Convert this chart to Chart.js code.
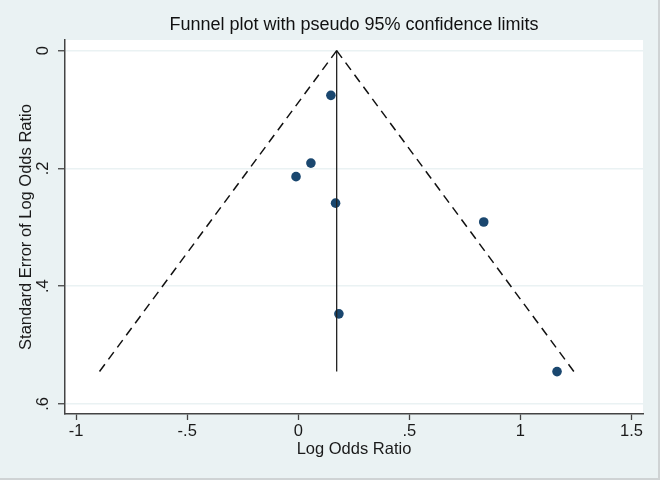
<!DOCTYPE html>
<html>
<head>
<meta charset="utf-8">
<script src="https://cdn.jsdelivr.net/npm/chart.js@4"></script>
<style>
  html, body { margin: 0; padding: 0; background: #eaf2f3; }
  #wrap { position: relative; width: 660px; height: 480px; }
</style>
</head>
<body>
<div id="wrap"><canvas id="chart" width="660" height="480"></canvas></div>
<script>
// --- Data ---
const logOR = [0.147, 0.057, -0.010, 0.168, 0.183, 0.835, 1.165];
const seLogOR = [0.076, 0.191, 0.214, 0.259, 0.447, 0.291, 0.545];

// pooled estimate line and pseudo 95% limits (start at se=0, end at max se)
const pooledX = [0.173, 0.173];
const limitSE = [0, 0.545];
const lowerLimitX = [0.173, -0.895];
const upperLimitX = [0.173, 1.241];

const xTicks = [-1, -0.5, 0, 0.5, 1, 1.5];
const yTicks = [0, 0.2, 0.4, 0.6];

// --- Helpers ---
const stataNum = (v) => {
  if (Math.abs(v) < 1e-9) return '0';
  let s = String(Math.round(v * 100) / 100);
  return s.replace(/^(-?)0\./, '$1.');
};
const pairs = (xs, ys) => xs.map((x, i) => ({ x, y: ys[i] }));

const FONT = '"Liberation Sans", Arial, sans-serif';
const BG = '#eaf2f3';
const AXIS = '#444';
const NAVY = '#1a476f';

// --- Background plugin: outer bluish region, white plot region, frame ---
const bgPlugin = {
  id: 'stataBg',
  beforeDraw(chart) {
    const { ctx, chartArea: a, width, height } = chart;
    ctx.save();
    ctx.fillStyle = BG;
    ctx.fillRect(0, 0, width, height);
    ctx.fillStyle = '#fff';
    ctx.fillRect(a.left, a.top, a.right - a.left, a.bottom - a.top);
    ctx.strokeStyle = '#cfd3d4';
    ctx.lineWidth = 2;
    ctx.beginPath();
    ctx.moveTo(width - 1, 0);
    ctx.lineTo(width - 1, height - 1);
    ctx.lineTo(0, height - 1);
    ctx.stroke();
    ctx.restore();
  }
};

new Chart(document.getElementById('chart').getContext('2d'), {
  type: 'scatter',
  data: {
    datasets: [
      {
        label: 'lower',
        type: 'line',
        data: pairs(lowerLimitX, limitSE),
        borderColor: '#111',
        borderWidth: 1.5,
        borderDash: [9, 6],
        pointRadius: 0,
        fill: false
      },
      {
        label: 'upper',
        type: 'line',
        data: pairs(upperLimitX, limitSE),
        borderColor: '#111',
        borderWidth: 1.5,
        borderDash: [9, 6],
        pointRadius: 0,
        fill: false
      },
      {
        label: 'pooled',
        type: 'line',
        data: pairs(pooledX, limitSE),
        borderColor: '#222',
        borderWidth: 1.3,
        pointRadius: 0,
        fill: false
      },
      {
        label: 'studies',
        data: pairs(logOR, seLogOR),
        backgroundColor: NAVY,
        borderColor: NAVY,
        pointRadius: 4.8,
        pointBorderWidth: 0
      }
    ]
  },
  options: {
    responsive: false,
    animation: false,
    events: [],
    layout: { padding: { left: 0, right: 17, top: 0, bottom: 0 } },
    plugins: {
      legend: { display: false },
      tooltip: { enabled: false },
      title: {
        display: true,
        fullSize: false,
        text: 'Funnel plot with pseudo 95% confidence limits',
        color: '#111',
        font: { family: FONT, size: 18, weight: 'normal' },
        padding: { top: 14.5, bottom: 3.9 }
      }
    },
    scales: {
      x: {
        type: 'linear',
        min: -1.05,
        max: 1.552,
        afterBuildTicks: (s) => { s.ticks = xTicks.map(v => ({ value: v })); },
        afterFit: (s) => { s.height = 66; },
        ticks: {
          color: '#1a1a1a',
          font: { family: FONT, size: 16.5 },
          padding: 2,
          maxRotation: 0,
          callback: (v) => stataNum(v)
        },
        grid: { drawOnChartArea: false, tickLength: 6, tickColor: AXIS, tickWidth: 1.3 },
        border: { color: AXIS, width: 1.5 },
        title: {
          display: true,
          text: 'Log Odds Ratio',
          color: '#1a1a1a',
          font: { family: FONT, size: 16.5 },
          padding: { top: 0, bottom: 21 }
        }
      },
      y: {
        type: 'linear',
        reverse: true,
        min: -0.018,
        max: 0.617,
        afterBuildTicks: (s) => { s.ticks = yTicks.map(v => ({ value: v })); },
        afterFit: (s) => { s.width = 65; },
        ticks: {
          color: '#1a1a1a',
          font: { family: FONT, size: 16.5 },
          padding: 8,
          minRotation: 90,
          maxRotation: 90,
          crossAlign: 'center',
          callback: (v) => stataNum(v)
        },
        grid: { color: '#eaf2f3', lineWidth: 1.5, tickLength: 7, tickColor: AXIS, tickWidth: 1.3 },
        border: { color: AXIS, width: 1.5 },
        title: {
          display: true,
          text: 'Standard Error of Log Odds Ratio',
          color: '#1a1a1a',
          font: { family: FONT, size: 16.5 },
          padding: { top: 17, bottom: 0 }
        }
      }
    }
  },
  plugins: [bgPlugin]
});
</script>
</body>
</html>
